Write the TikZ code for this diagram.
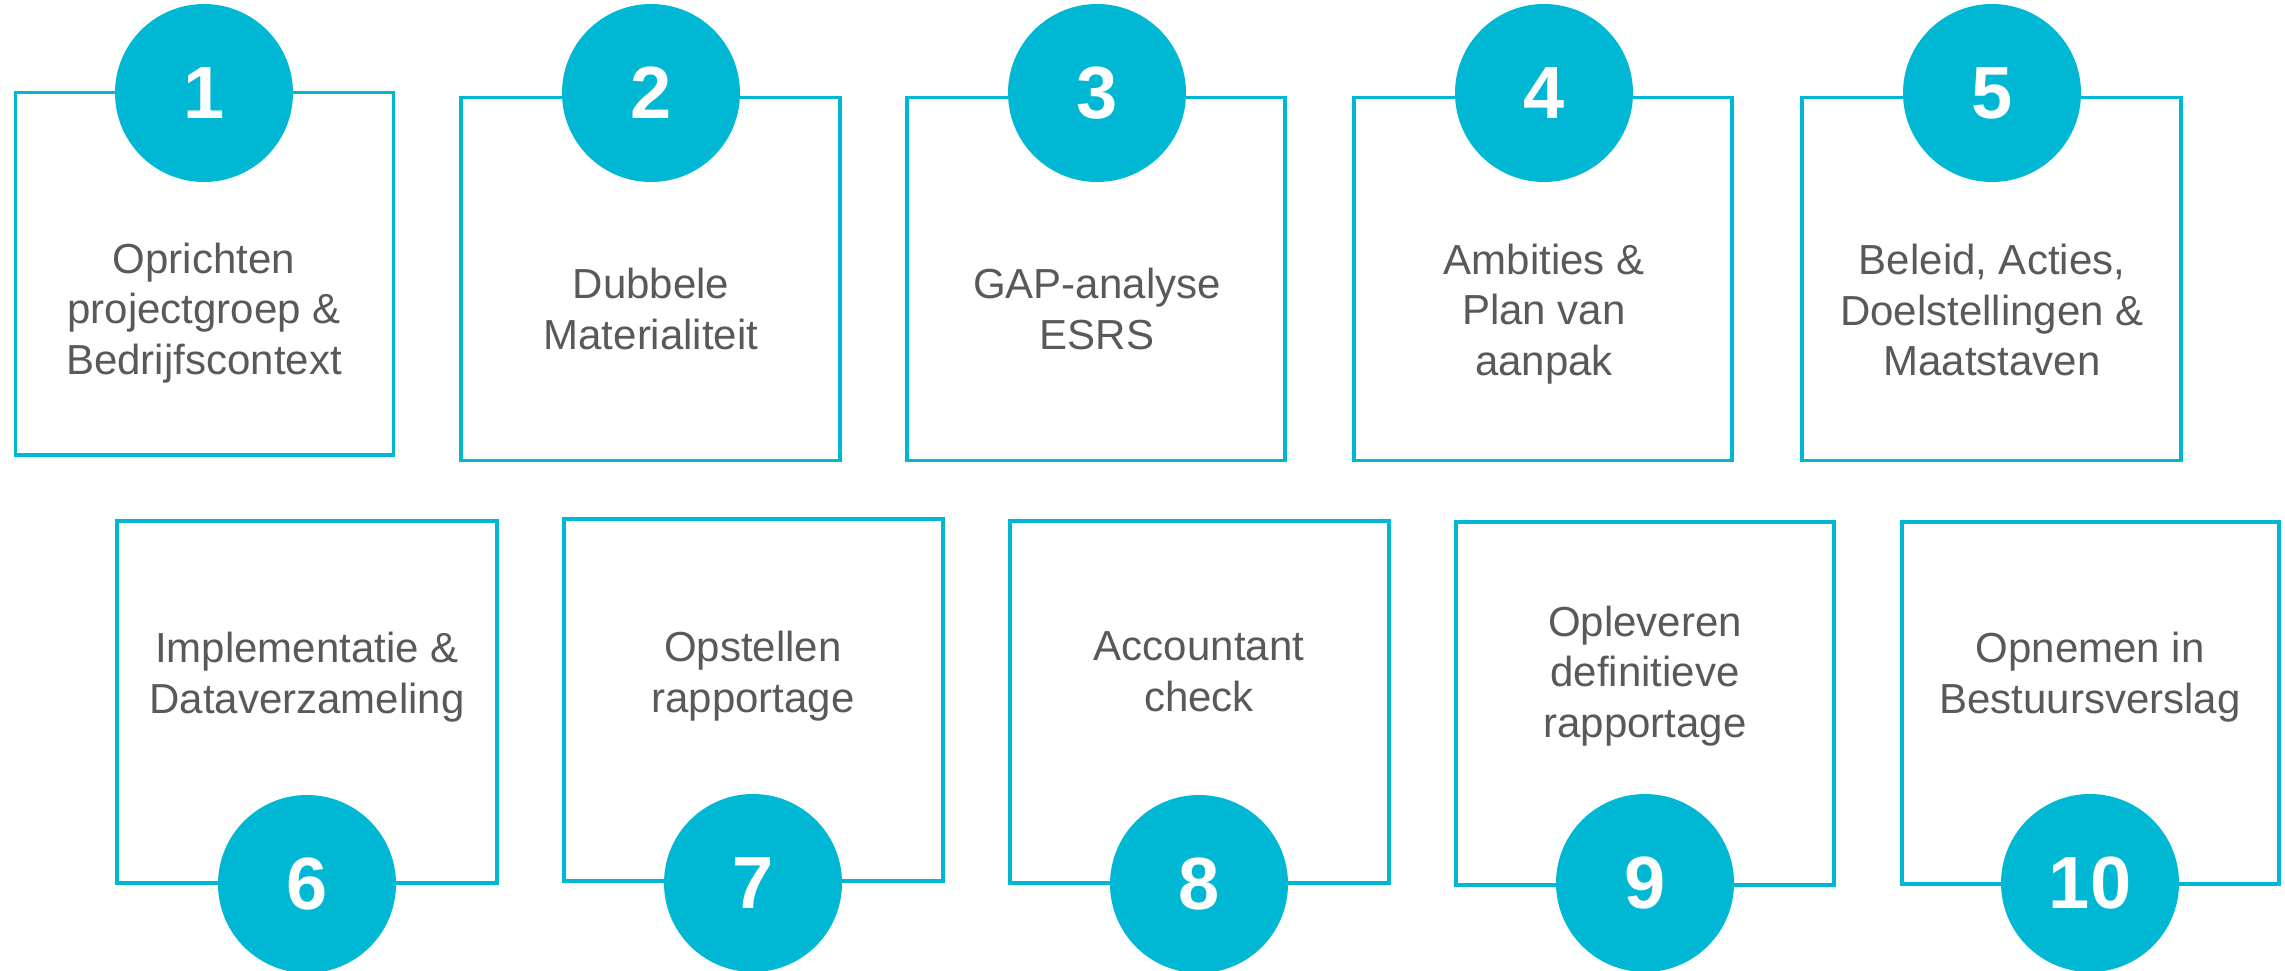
\documentclass[tikz,border=0pt]{standalone}
\usepackage{fontspec}
\setmainfont{Liberation Sans}
\usetikzlibrary{fit}
\definecolor{tealc}{RGB}{0,184,212}
\definecolor{txtc}{RGB}{89,89,89}
\begin{document}
\begin{tikzpicture}[x=0.5pt,y=-0.5pt,
  stepbox/.style={draw=tealc, line width=1.65pt, fill=white, inner sep=0pt, rectangle},
  numdisc/.style={circle, fill=tealc, draw=none, minimum size=89pt, inner sep=0pt,
    text=white, font=\bfseries\fontsize{37}{40}\selectfont},
  steptext/.style={align=center, text=txtc, inner sep=0pt,
    font=\fontsize{21}{25.3}\selectfont}]
\useasboundingbox (0,0) rectangle (2285,970);
\clip (0,0) rectangle (2285,970);
% boxes
\node[stepbox, fit={(15.3,92.5) (393.5,455)}] (b1) {};
\node[stepbox, fit={(461,97.5) (840,460.5)}] (b2) {};
\node[stepbox, fit={(907,97.5) (1285,460.5)}] (b3) {};
\node[stepbox, fit={(1354,97.5) (1732,460.5)}] (b4) {};
\node[stepbox, fit={(1802,97.5) (2181,460.5)}] (b5) {};
\node[stepbox, fit={(117,521) (497,883)}] (b6) {};
\node[stepbox, fit={(564,519) (943,881)}] (b7) {};
\node[stepbox, fit={(1010,521) (1389,883)}] (b8) {};
\node[stepbox, fit={(1456,522) (1834,885)}] (b9) {};
\node[stepbox, fit={(1902,522) (2279,884)}] (b10) {};
% discs
\node[numdisc] (c1) at (204,93) {1};
\node[numdisc] (c2) at (651,93) {2};
\node[numdisc] (c3) at (1097,93) {3};
\node[numdisc] (c4) at (1544,93) {4};
\node[numdisc] (c5) at (1992,93) {5};
\node[numdisc] (c6) at (307,884) {6};
\node[numdisc] (c7) at (753,883) {7};
\node[numdisc] (c8) at (1199,884) {8};
\node[numdisc] (c9) at (1645,883) {9};
\node[numdisc] (c10) at (2090,883) {10};
% texts
\node[steptext] (t1) at (204,313) {Oprichten\\projectgroep \&\\Bedrijfscontext};
\node[steptext] (t2) at (651,309) {Dubbele\\Materialiteit};
\node[steptext] (t3) at (1097,309) {GAP-analyse\\ESRS};
\node[steptext] (t4) at (1544,314) {Ambities \&\\Plan van\\aanpak};
\node[steptext] (t5) at (1992,310) {Beleid, Acties,\\Doelstellingen \&\\Maatstaven};
\node[steptext] (t6) at (307,677) {Implementatie \&\\Dataverzameling};
\node[steptext] (t7) at (753,676) {Opstellen\\rapportage};
\node[steptext] (t8) at (1199,672) {Accountant\\check};
\node[steptext] (t9) at (1645,676) {Opleveren\\definitieve\\rapportage};
\node[steptext] (t10) at (2090,677) {Opnemen in\\Bestuursverslag};
\end{tikzpicture}
\end{document}
